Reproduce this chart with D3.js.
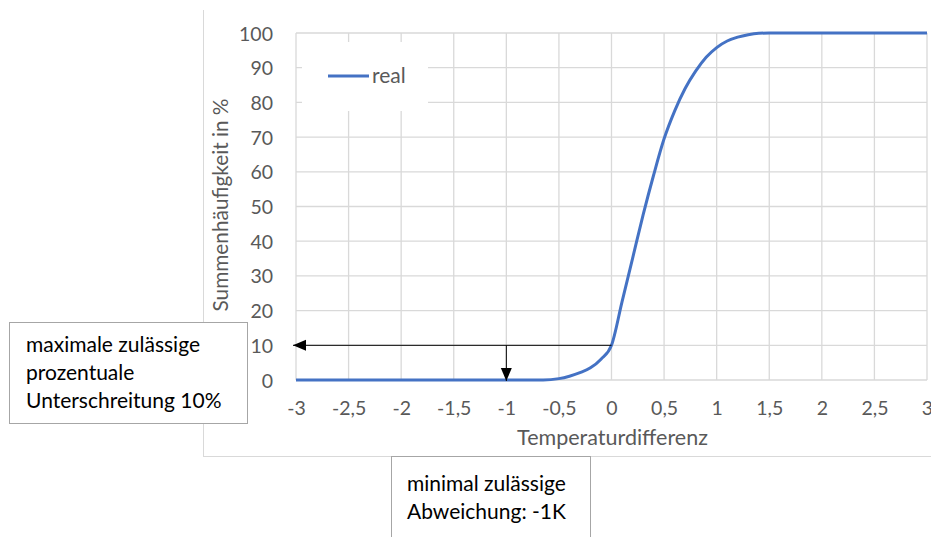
<!DOCTYPE html>
<html>
<head>
<meta charset="utf-8">
<script src="https://cdn.jsdelivr.net/npm/d3@7"></script>
<style>
  body { margin: 0; background: #fff; }
  text { font-family: Lato, "Open Sans", sans-serif; }
</style>
</head>
<body>
<div id="chart"></div>
<script>
var w = 931,
    h = 537;

// Temperaturdifferenz (K) and Summenhäufigkeit (%)
var tempDiff = [-3, -2.5, -2, -1.5, -1, -0.8, -0.65, -0.5, -0.4, -0.3, -0.2, -0.1, 0,
                0.1, 0.2, 0.3, 0.4, 0.5, 0.6, 0.7, 0.8, 0.9, 1, 1.1, 1.2, 1.3, 1.4, 1.5, 2, 2.5, 3];
var cumFreq  = [0, 0, 0, 0, 0, 0, 0, 0.4, 1.1, 2.1, 3.5, 6, 10,
                22.5, 35, 47.5, 59, 69.5, 77.5, 84, 89, 93, 95.8, 97.7, 98.8, 99.5, 99.9, 100, 100, 100, 100];

var xTicks = [-3, -2.5, -2, -1.5, -1, -0.5, 0, 0.5, 1, 1.5, 2, 2.5, 3];
var yTicks = [0, 10, 20, 30, 40, 50, 60, 70, 80, 90, 100];

var seriesName = "real";
var xTitle = "Temperaturdifferenz";
var yTitle = "Summenhäufigkeit in %";

var limitX = -1,   // minimal zulässige Abweichung
    limitY = 10;   // maximale prozentuale Unterschreitung

var noteLeft = ["maximale zulässige", "prozentuale", "Unterschreitung 10%"];
var noteBottom = ["minimal zulässige", "Abweichung: -1K"];

var x = d3.scaleLinear().domain([-3, 3]).range([296, 927]),
    y = d3.scaleLinear().domain([0, 100]).range([380, 33]);

var fmt = function(d) { return String(d).replace(".", ","); };

var svg = d3.select("#chart").append("svg")
    .attr("width", w)
    .attr("height", h);

var defs = svg.append("defs");
defs.append("marker")
    .attr("id", "arrow")
    .attr("markerUnits", "userSpaceOnUse")
    .attr("markerWidth", 14)
    .attr("markerHeight", 12)
    .attr("refX", 13)
    .attr("refY", 6)
    .attr("orient", "auto")
  .append("path")
    .attr("d", "M0,0.5 L13,6 L0,11.5 Z")
    .attr("fill", "#000");

// outer frame lines (chart area border)
svg.append("line")
    .attr("x1", 203.5).attr("x2", 203.5)
    .attr("y1", 10).attr("y2", 456)
    .attr("stroke", "#d9d9d9");
svg.append("line")
    .attr("x1", 203).attr("x2", w)
    .attr("y1", 456.5).attr("y2", 456.5)
    .attr("stroke", "#d9d9d9");

// gridlines
var grid = svg.append("g").attr("class", "grid");
grid.selectAll("line.v").data(xTicks).enter().append("line")
    .attr("class", "v")
    .attr("x1", function(d) { return x(d); })
    .attr("x2", function(d) { return x(d); })
    .attr("y1", y(100)).attr("y2", y(0))
    .attr("stroke", "#d9d9d9").attr("stroke-width", 1.3);
grid.selectAll("line.h").data(yTicks).enter().append("line")
    .attr("class", "h")
    .attr("x1", x(-3)).attr("x2", x(3))
    .attr("y1", function(d) { return y(d); })
    .attr("y2", function(d) { return y(d); })
    .attr("stroke", "#d9d9d9").attr("stroke-width", 1.3);

// axes (labels only)
var yAxis = svg.append("g")
    .attr("transform", "translate(" + (x(-3) - 23) + ",0)")
    .call(d3.axisLeft(y).tickValues(yTicks).tickSize(0).tickPadding(0));
var xAxis = svg.append("g")
    .attr("transform", "translate(0," + (y(0) + 35) + ")")
    .call(d3.axisBottom(x).tickValues(xTicks).tickFormat(fmt).tickSize(0).tickPadding(0));
[xAxis, yAxis].forEach(function(a) {
  a.select(".domain").remove();
  a.selectAll("text")
      .style("font-family", "Lato, sans-serif")
      .style("font-size", "19.5px")
      .attr("fill", "#595959");
});
xAxis.selectAll("text").attr("dy", 0);
yAxis.selectAll("text").attr("dy", "0.36em");

svg.append("text")
    .attr("x", x(0) + 1)
    .attr("y", 445)
    .attr("text-anchor", "middle")
    .attr("font-size", 21.5)
    .attr("fill", "#595959")
    .text(xTitle);

svg.append("text")
    .attr("transform", "translate(228," + 205 + ") rotate(-90)")
    .attr("text-anchor", "middle")
    .attr("font-size", 20.8)
    .attr("fill", "#595959")
    .text(yTitle);

// legend
var legend = svg.append("g");
legend.append("rect")
    .attr("x", 302).attr("y", 42)
    .attr("width", 126).attr("height", 69)
    .attr("fill", "#fff");
legend.append("line")
    .attr("x1", 328).attr("x2", 369)
    .attr("y1", 76).attr("y2", 76)
    .attr("stroke", "#4472C4").attr("stroke-width", 3);
legend.append("text")
    .attr("x", 372).attr("y", 83)
    .attr("font-size", 21)
    .attr("fill", "#595959")
    .text(seriesName);

// series
var pts = tempDiff.map(function(d, i) { return [d, cumFreq[i]]; });
var line = d3.line()
    .x(function(d) { return x(d[0]); })
    .y(function(d) { return y(d[1]); })
    .curve(d3.curveMonotoneX);

svg.append("path")
    .datum(pts)
    .attr("d", line)
    .attr("fill", "none")
    .attr("stroke", "#4472C4")
    .attr("stroke-width", 3)
    .attr("stroke-linejoin", "round");

// arrows
svg.append("line")
    .attr("x1", x(0)).attr("x2", x(-3) - 3)
    .attr("y1", y(limitY)).attr("y2", y(limitY))
    .attr("stroke", "#000").attr("stroke-width", 1)
    .attr("marker-end", "url(#arrow)");
svg.append("line")
    .attr("x1", x(limitX)).attr("x2", x(limitX))
    .attr("y1", y(limitY)).attr("y2", y(0) + 1)
    .attr("stroke", "#000").attr("stroke-width", 1)
    .attr("marker-end", "url(#arrow)");

// annotation boxes
function noteBox(bx, by, bw, bh, lines, tx, ty) {
  var g = svg.append("g");
  g.append("rect")
      .attr("x", bx + 0.5).attr("y", by + 0.5)
      .attr("width", bw).attr("height", bh)
      .attr("fill", "#fff")
      .attr("stroke", "#a6a6a6");
  g.selectAll("text").data(lines).enter().append("text")
      .attr("x", tx)
      .attr("y", function(d, i) { return ty + i * 28; })
      .attr("font-size", 21)
      .attr("fill", "#000")
      .text(function(d) { return d; });
}
noteBox(9, 322, 238, 101, noteLeft, 26, 352);
noteBox(391, 456, 199, 100, noteBottom, 407, 491);
</script>
</body>
</html>
